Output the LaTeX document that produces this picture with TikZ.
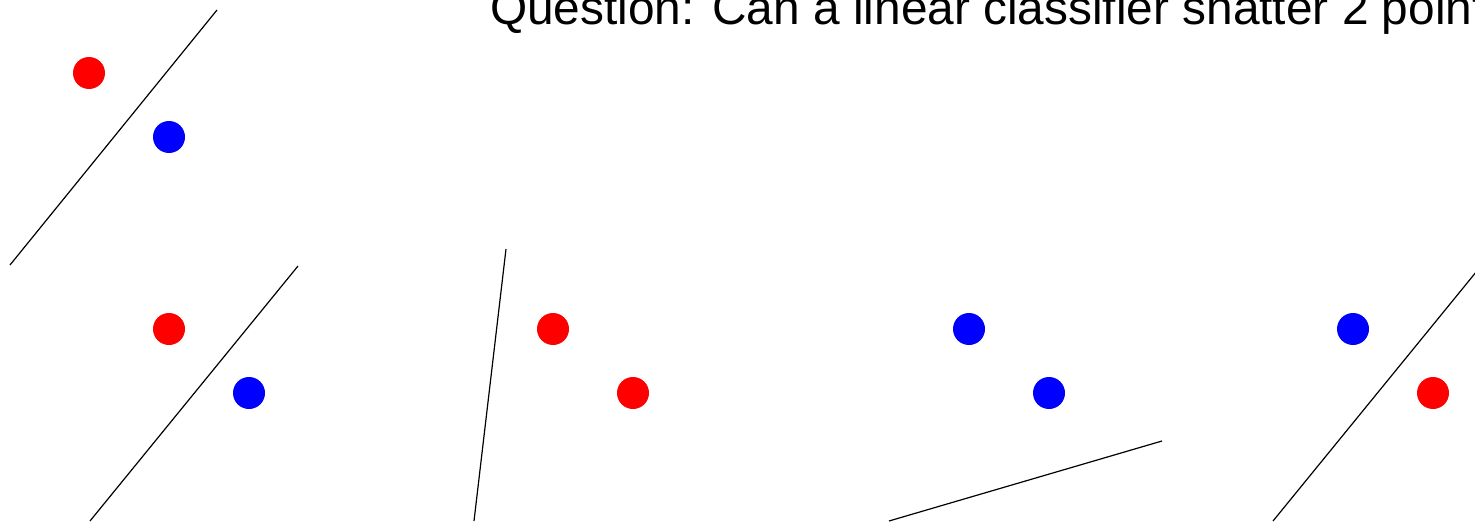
\documentclass[tikz,border=0pt]{standalone}
\usepackage{fontspec}
\setmainfont{Liberation Sans}
\begin{document}
\begin{tikzpicture}[x=1pt,y=-1pt,
  dot/.style={circle,inner sep=0pt,minimum size=32pt,fill=#1},
  sep/.style={line width=1.2pt,black}]
\useasboundingbox (0,0) rectangle (1475,524);
\clip (0,0) rectangle (1475,524);
\node[anchor=base west,inner sep=0pt,font=\fontsize{47.8}{57}\selectfont] (q) at (490,25) {Question: Can a linear classifier shatter 2 points?};
% panel 1
\node[dot=red] (a1) at (89,73) {};
\node[dot=blue] (b1) at (169,137) {};
\coordinate (l1s) at (10,265); \coordinate (l1e) at (217,10);
\draw[sep] (l1s) -- (l1e);
% panel 2
\node[dot=red] (a2) at (169,329) {};
\node[dot=blue] (b2) at (249,393) {};
\coordinate (l2s) at (90,521); \coordinate (l2e) at (298,266);
\draw[sep] (l2s) -- (l2e);
% panel 3
\node[dot=red] (a3) at (553,329) {};
\node[dot=red] (b3) at (633,393) {};
\coordinate (l3s) at (474,521); \coordinate (l3e) at (506,249);
\draw[sep] (l3s) -- (l3e);
% panel 4
\node[dot=blue] (a4) at (969,329) {};
\node[dot=blue] (b4) at (1049,393) {};
\coordinate (l4s) at (889,521); \coordinate (l4e) at (1162,441);
\draw[sep] (l4s) -- (l4e);
% panel 5
\node[dot=blue] (a5) at (1353,329) {};
\node[dot=red] (b5) at (1433,393) {};
\coordinate (l5s) at (1273,521); \coordinate (l5e) at (1481,266);
\draw[sep] (l5s) -- (l5e);
\end{tikzpicture}
\end{document}
